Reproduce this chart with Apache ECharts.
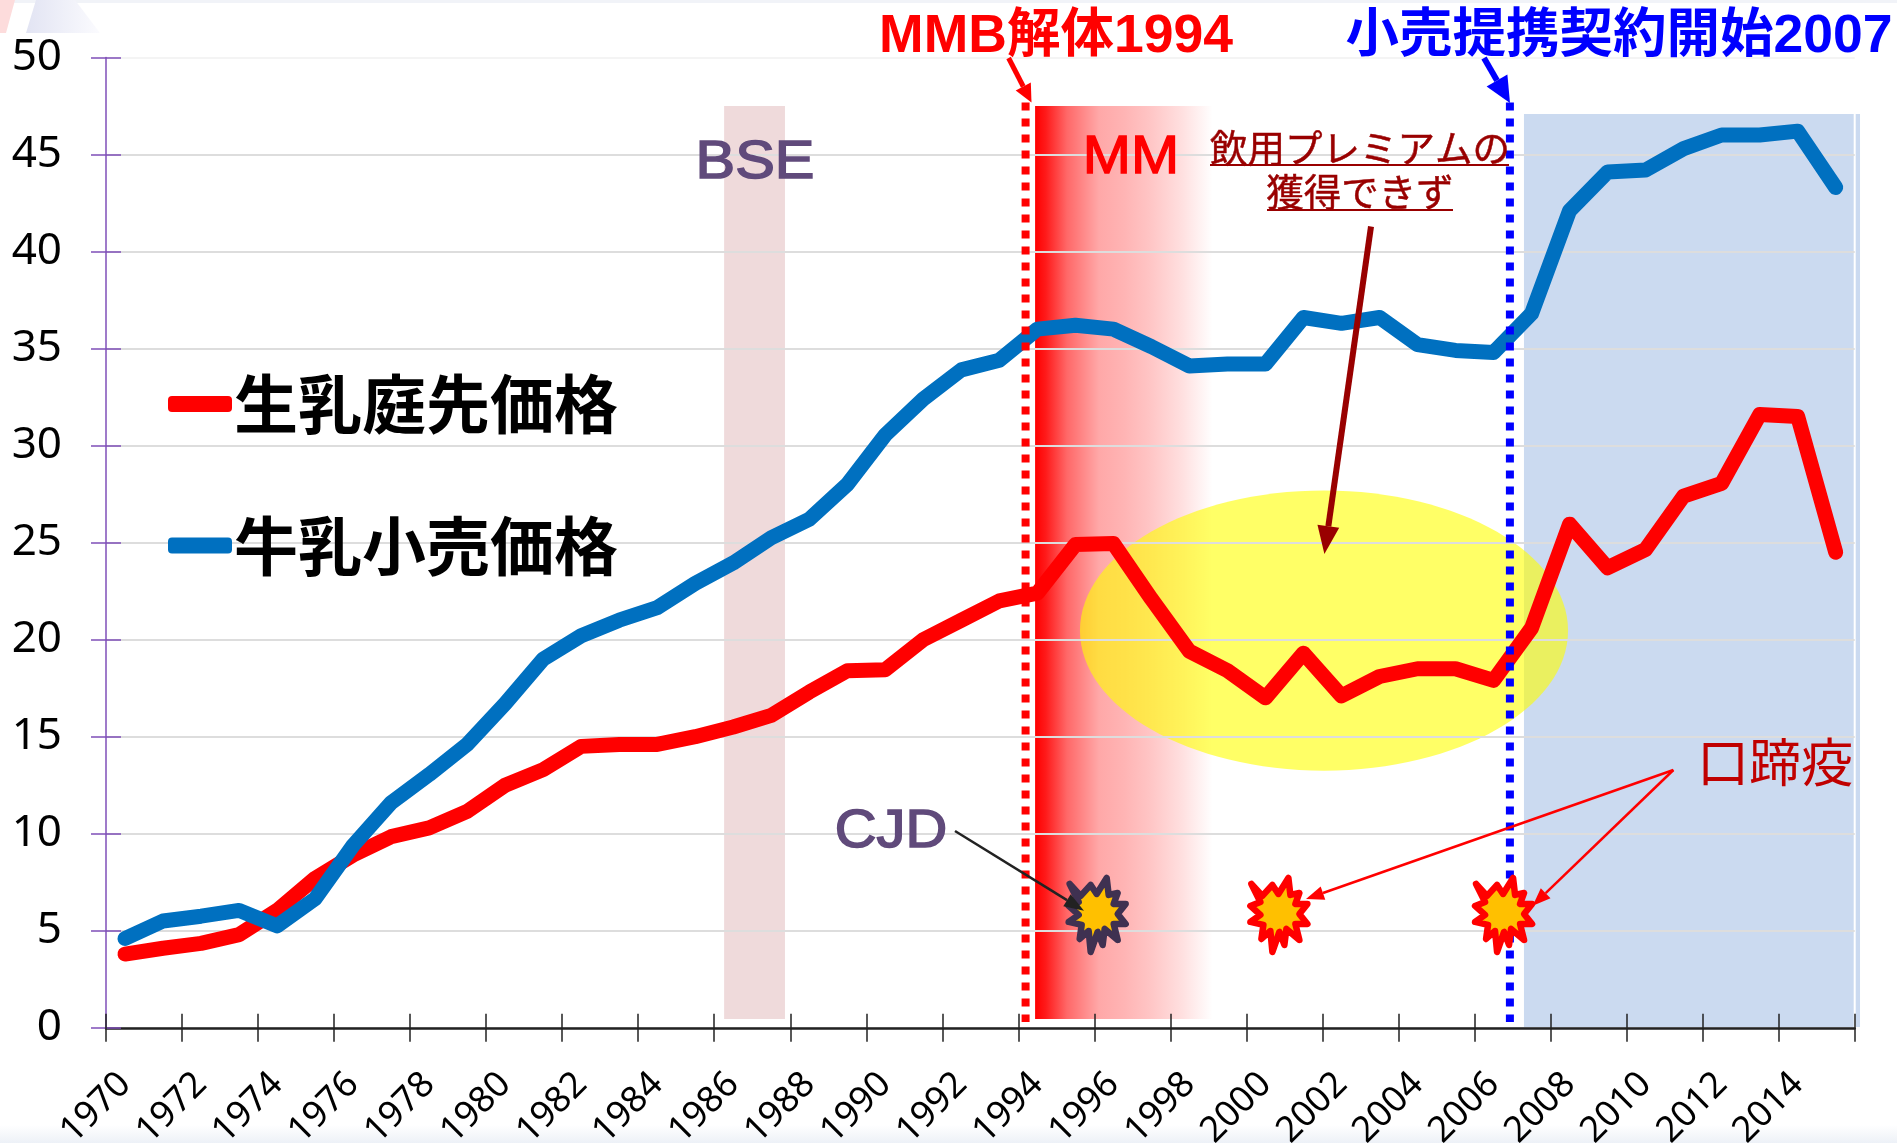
<!DOCTYPE html>
<html><head><meta charset="utf-8">
<style>html,body{margin:0;padding:0;background:#fff}#c{width:1897px;height:1143px}</style>
<script src="https://cdn.jsdelivr.net/npm/echarts@6/dist/echarts.min.js"></script>
</head><body><div id="c"></div>
<script>
const years = ['1970','1971','1972','1973','1974','1975','1976','1977','1978','1979','1980','1981','1982','1983','1984','1985','1986','1987','1988','1989','1990','1991','1992','1993','1994','1995','1996','1997','1998','1999','2000','2001','2002','2003','2004','2005','2006','2007','2008','2009','2010','2011','2012','2013','2014','2015'];
const farmgatePrice = [3.8,4.1,4.35,4.8,6.05,7.7,8.9,9.85,10.3,11.15,12.5,13.3,14.5,14.6,14.6,15.0,15.5,16.1,17.3,18.4,18.45,20.0,21.0,22.0,22.4,24.9,24.95,22.1,19.4,18.4,17.0,19.3,17.1,18.1,18.5,18.5,17.9,20.6,25.95,23.7,24.65,27.4,28.05,31.6,31.5,24.5];
const retailPrice = [4.6,5.5,5.75,6.05,5.25,6.65,9.4,11.6,13.05,14.6,16.7,19.0,20.2,21.0,21.65,22.9,23.95,25.25,26.2,28.0,30.55,32.4,33.9,34.4,36.0,36.2,36.0,35.1,34.1,34.2,34.2,36.6,36.3,36.6,35.2,34.9,34.8,36.8,42.1,44.1,44.2,45.3,46.0,46.0,46.2,43.3];
const farmgateName = '生乳庭先価格';
const retailName = '牛乳小売価格';
// periods as [fromYear, toYear, fromValue, toValue]
const bsePeriod = [1985.76, 1987.36, 0.45, 47.5];
const mmPeriod = [1993.94, 1998.61, 0.45, 47.5];
const retailPeriod = [2006.8, 2015.64, 0.04, 47.08];
// oval: [centerYear, centerValue, radiusYears, radiusValue]
const premiumOval = [2001.54, 20.47, 6.42, 7.22];
// vertical markers: [year, fromValue, toValue]
const mmbMarker = [1993.69, 0.3, 47.67];
const contractMarker = [2006.43, 0.3, 47.67];
// outbreaks: [year, value]
const cjdEvent = [1995.56, 5.97];
const fmdEvents = [[2000.34, 5.97], [2006.25, 5.97]];

const burst = [[-27,-28],[-16,-16],[-6,-27],[0,-18],[10,-34],[12,-17],[21,-19],[17,-8],[29,-8],[21,2],[29,12],[17,12],[21,28],[8,17],[6,33],[1,20],[-6,40],[-8,19],[-17,27],[-15,13],[-28,10],[-18,3],[-28,-6],[-18,-10]];
const latin = "'Liberation Sans','Noto Sans CJK JP'";

function bandRender(fillFn){
  return function(params, api){
    const a = api.coord([api.value(0), api.value(3)]);
    const b = api.coord([api.value(1), api.value(2)]);
    const children = [{type:'rect',shape:{x:a[0],y:a[1],width:b[0]-a[0],height:b[1]-a[1]},style:{fill:fillFn(params.dataIndex)}}];
    return {type:'group',children};
  };
}
const bandFills = ['#EFDADB',
  {type:'linear',x:0,y:0,x2:1,y2:0,colorStops:[{offset:0,color:'#FF0000'},{offset:0.06,color:'#FF1A1A'},{offset:0.18,color:'#FF6868'},{offset:0.36,color:'#FFA8A8'},{offset:0.5,color:'#FFB4B4'},{offset:0.64,color:'#FFC4C4'},{offset:0.83,color:'#FFE0E0'},{offset:1,color:'#FFFFFF'}]},
  '#CBDAF0'];

function vline(color){
  return function(params, api){
    const a = api.coord([api.value(0), api.value(2)]);
    const b = api.coord([api.value(0), api.value(1)]);
    return {type:'line',shape:{x1:a[0],y1:a[1],x2:b[0],y2:b[1]},style:{stroke:color,lineWidth:8,lineDash:[8,8],fill:null}};
  };
}
function burstRender(stroke){
  return function(params, api){
    const c = api.coord([api.value(0), api.value(1)]);
    return {type:'polygon',shape:{points:burst.map(p=>[c[0]+p[0],c[1]+p[1]])},style:{fill:'#FFC000',stroke:stroke,lineWidth:6.5,lineJoin:'round'}};
  };
}
function arrowEls(x1,y1,x2,y2,color,w,hl,hw){
  const d=Math.hypot(x2-x1,y2-y1),ux=(x2-x1)/d,uy=(y2-y1)/d,bx=x2-ux*hl,by=y2-uy*hl;
  return [
    {type:'line',z:40,shape:{x1,y1,x2:bx,y2:by},style:{stroke:color,lineWidth:w}},
    {type:'polygon',z:40,shape:{points:[[x2,y2],[bx-uy*hw/2,by+ux*hw/2],[bx+uy*hw/2,by-ux*hw/2]]},style:{fill:color}}
  ];
}
function txt(text,x,y,font,fill,sx,sw){
  return {type:'text',z:41,x:x,y:y,scaleX:sx||1,style:{text,x:0,y:0,font,fill,textAlign:'center',textVerticalAlign:'middle',stroke:sw?fill:null,lineWidth:sw||0}};
}
const graphicEls = [
  {type:'rect',z:-10,shape:{x:0,y:0,width:1897,height:3},style:{fill:'#F1F3F8'}},
  {type:'rect',z:-10,shape:{x:0,y:1125,width:1897,height:18},style:{fill:{type:'linear',x:0,y:0,x2:0,y2:1,colorStops:[{offset:0,color:'#FFFFFF'},{offset:1,color:'#EDF1F7'}]}}},
  {type:'polygon',z:-10,shape:{points:[[0,0],[15,0],[6,33],[0,33]]},style:{fill:'#FDDCDC'}},
  {type:'polygon',z:-10,shape:{points:[[36,0],[75,0],[100,33],[26,33]]},style:{fill:{type:'linear',x:0,y:0,x2:1,y2:0,colorStops:[{offset:0,color:'#E2E4F3'},{offset:1,color:'#FBFBFE'}]}}},
  txt('MMB解体1994',1056,37,'bold 53.5px '+latin,'#FF0000'),
  txt('小売提携契約開始2007',1619,37,'bold 53.5px '+latin,'#0000FF'),
  txt('BSE',755,163,'54px '+latin,'#604A7B',1.1,1.6),
  txt('MM',1131,158,'54px '+latin,'#FF0000',1.07,1.4),
  txt('CJD',891,832,'54px '+latin,'#604A7B',1.07,1.6),
  txt('飲用プレミアムの',1360,148,'37.5px "Noto Sans CJK JP"','#990000',1,0.5),
  txt('獲得できず',1360,192,'37.5px "Noto Sans CJK JP"','#990000',1,0.5),
  {type:'line',z:41,shape:{x1:1210,y1:165,x2:1509,y2:165},style:{stroke:'#990000',lineWidth:2}},
  {type:'line',z:41,shape:{x1:1267,y1:210,x2:1453,y2:210},style:{stroke:'#990000',lineWidth:2}},
  txt('口蹄疫',1775,762,'52px "Noto Sans CJK JP"','#C00000'),
  ...arrowEls(1008.6,58,1031.5,102.5,'#FF0000',5,18,17),
  ...arrowEls(1484,58,1510,103,'#0000FF',6,26,24),
  ...arrowEls(1371,226.5,1324.4,554,'#990000',6,28,22),
  ...arrowEls(955,831,1084,910.7,'#222222',2.5,20,14),
  ...arrowEls(1673.4,770,1306,899,'#FF0000',2.5,18,14),
  ...arrowEls(1673.4,770,1532.7,905.7,'#FF0000',2.5,18,14)
];

const gridColors = ['#DDDDDD','#DDDDDD','#DDDDDD','#DDDDDD','#DDDDDD','#DDDDDD','#DDDDDD','#DDDDDD','#DDDDDD','#DDDDDD','#F4F4F4'];
const chart = echarts.init(document.getElementById('c'),null,{renderer:'canvas'});
const option = {
  animation:false,
  backgroundColor:'#FFFFFF',
  graphic:{elements:graphicEls},
  grid:{left:106,top:57.4,width:1748.7,height:970.4,containLabel:false,outerBoundsMode:'none'},
  legend:{
    left:168,top:354,padding:0,orient:'vertical',itemWidth:64,itemHeight:16,itemGap:41.6,selectedMode:false,
    data:[{name:farmgateName,icon:'roundRect'},{name:retailName,icon:'roundRect'}],
    textStyle:{fontFamily:'Noto Sans CJK JP',fontWeight:'bold',fontSize:64,color:'#000',lineHeight:70,padding:[30,0,0,-3]}
  },
  xAxis:[
    {type:'category',data:years,boundaryGap:true,
     axisLine:{lineStyle:{color:'#222',width:2.5}},
     axisTick:{show:true,interval:1,length:14,lineStyle:{color:'#222',width:1.5}},
     axisLabel:{interval:1,rotate:45,margin:51,fontFamily:'Noto Sans',fontSize:36,color:'#000'},
     splitLine:{show:false}},
    {type:'category',data:years,boundaryGap:true,position:'bottom',
     axisLine:{show:false},
     axisTick:{show:true,inside:true,interval:1,length:14,lineStyle:{color:'#222',width:1.5}},
     axisLabel:{show:false},splitLine:{show:false}},
    {type:'value',min:1969.5,max:2015.5,show:false,splitLine:{show:false}}
  ],
  yAxis:[
    {type:'value',min:0,max:50,interval:5,
     axisLine:{show:true,lineStyle:{color:'#7F4FB8',width:1.5}},
     axisTick:{show:true,length:15,lineStyle:{color:'#7F4FB8',width:1.5}},
     axisLabel:{margin:44,fontFamily:'Noto Sans',fontSize:44,color:'#000'},
     splitLine:{show:true,lineStyle:{color:gridColors,width:2}}},
    {type:'value',min:0,max:50,interval:5,position:'left',
     axisLine:{show:false},
     axisTick:{show:true,inside:true,length:15,lineStyle:{color:'#7F4FB8',width:1.5}},
     axisLabel:{show:false},splitLine:{show:false}}
  ],
  series:[
    {type:'custom',name:'bands',xAxisIndex:2,yAxisIndex:0,z:-3,silent:true,renderItem:bandRender(i=>bandFills[i]),data:[bsePeriod,mmPeriod,retailPeriod]},
    {type:'custom',name:'oval',xAxisIndex:2,yAxisIndex:0,z:-2,silent:true,
     renderItem:function(params,api){
       const c=api.coord([api.value(0),api.value(1)]);
       const e=api.coord([api.value(0)+api.value(2),api.value(1)+api.value(3)]);
       return {type:'ellipse',shape:{cx:c[0],cy:c[1],rx:e[0]-c[0],ry:c[1]-e[1]},style:{fill:'rgba(255,255,0,0.6)'}};
     },data:[premiumOval]},
    {type:'custom',name:'plotEnd',xAxisIndex:2,yAxisIndex:0,z:-1,silent:true,
     renderItem:function(params,api){
       const a=api.coord([api.value(0),api.value(2)]),b=api.coord([api.value(0),api.value(1)]);
       return {type:'line',shape:{x1:a[0],y1:a[1],x2:b[0],y2:b[1]},style:{stroke:'#FFFFFF',lineWidth:2}};
     },data:[[2015.5,retailPeriod[2],retailPeriod[3]]]},
    {type:'line',name:farmgateName,xAxisIndex:0,yAxisIndex:0,data:farmgatePrice,z:3,showSymbol:false,smooth:false,
     itemStyle:{color:'#FF0000'},lineStyle:{color:'#FF0000',width:15,cap:'round',join:'round'}},
    {type:'line',name:retailName,xAxisIndex:0,yAxisIndex:0,data:retailPrice,z:4,showSymbol:false,smooth:false,
     itemStyle:{color:'#0070C0'},lineStyle:{color:'#0070C0',width:15,cap:'round',join:'round'}},
    {type:'custom',name:'mmb',xAxisIndex:2,yAxisIndex:0,z:6,silent:true,renderItem:vline('#FF0000'),data:[mmbMarker]},
    {type:'custom',name:'contract',xAxisIndex:2,yAxisIndex:0,z:6,silent:true,renderItem:vline('#0000FF'),data:[contractMarker]},
    {type:'custom',name:'cjd',xAxisIndex:2,yAxisIndex:0,z:7,silent:true,renderItem:burstRender('#3F3151'),data:[cjdEvent]},
    {type:'custom',name:'fmd',xAxisIndex:2,yAxisIndex:0,z:7,silent:true,renderItem:burstRender('#FF0000'),data:fmdEvents}
  ]
};
chart.setOption(option);
</script></body></html>
